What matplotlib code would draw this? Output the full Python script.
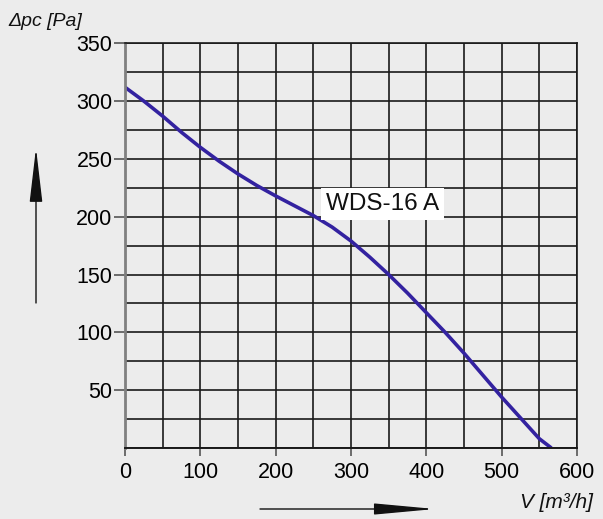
import matplotlib
matplotlib.use("Agg")
import matplotlib.pyplot as plt
from matplotlib.patches import FancyArrowPatch
from matplotlib.ticker import MultipleLocator

plt.rcParams['font.family'] = ['Liberation Sans', 'DejaVu Sans']

# fan curve
flow = [0, 25, 50, 75, 100, 125, 150, 175, 200, 225, 250, 275, 300, 325,
        350, 375, 400, 425, 450, 475, 500, 525, 550, 566]
pressure = [312, 300, 287, 273, 260, 248, 237, 227, 218, 209.5, 201, 191, 179,
            165, 150, 134, 117, 100, 82, 63, 44, 26, 8, 0]

x_ticks = [0, 100, 200, 300, 400, 500, 600]
y_ticks = [50, 100, 150, 200, 250, 300, 350]
label = "WDS-16 A"

bg = '#ececec'
fig = plt.figure(figsize=(6.03, 5.19), dpi=100, facecolor=bg)
ax = fig.add_axes([0.2073, 0.1368, 0.7496, 0.7798], facecolor=bg)

ax.set_xlim(0, 600)
ax.set_ylim(0, 350)
ax.xaxis.set_minor_locator(MultipleLocator(50))
ax.yaxis.set_minor_locator(MultipleLocator(25))
ax.set_xticks(x_ticks)
ax.set_yticks(y_ticks)
ax.grid(True, which='both', color='#1a1a1a', lw=1.2)
ax.set_axisbelow(True)

ax.plot(flow, pressure, color='#3322a0', lw=2.6, solid_capstyle='butt',
        solid_joinstyle='round')

ax.text(342, 211, label, fontsize=17.5, ha='center', va='center', color='#111111',
        bbox=dict(boxstyle='square,pad=0.2', fc='white', ec='none'))

ax.tick_params(which='minor', length=0)
ax.tick_params(axis='x', which='major', length=6, width=1.2, color='#555555',
               labelsize=15.5, pad=4)
ax.tick_params(axis='y', which='major', length=8, width=1.2, color='#555555',
               labelsize=15.5, pad=1)
for s in ['top', 'right']:
    ax.spines[s].set_color('#1a1a1a')
    ax.spines[s].set_linewidth(1.2)
ax.spines['bottom'].set_color('#1a1a1a')
ax.spines['bottom'].set_linewidth(1.4)
ax.spines['left'].set_color('#808080')
ax.spines['left'].set_linewidth(2)

fig.text(8 / 603, 1 - 22 / 519, "Δpc [Pa]", fontsize=14, style='italic',
         ha='left', va='center', color='#111111')
fig.text(593 / 603, 1 - 502 / 519, "V [m³/h]", fontsize=15, style='italic',
         ha='right', va='center', color='#111111')

# direction arrows, in figure pixels
up = FancyArrowPatch((36, 519 - 303), (36, 519 - 148), transform=None,
                     arrowstyle='-|>,head_length=3.4,head_width=0.4',
                     mutation_scale=10, lw=1, color='#111111',
                     shrinkA=0, shrinkB=0)
right = FancyArrowPatch((260, 519 - 509), (435, 519 - 509), transform=None,
                        arrowstyle='-|>,head_length=3.8,head_width=0.35',
                        mutation_scale=10, lw=1, color='#111111',
                        shrinkA=0, shrinkB=0)
fig.add_artist(up)
fig.add_artist(right)

fig.savefig('out.png', dpi=100, facecolor=bg)
